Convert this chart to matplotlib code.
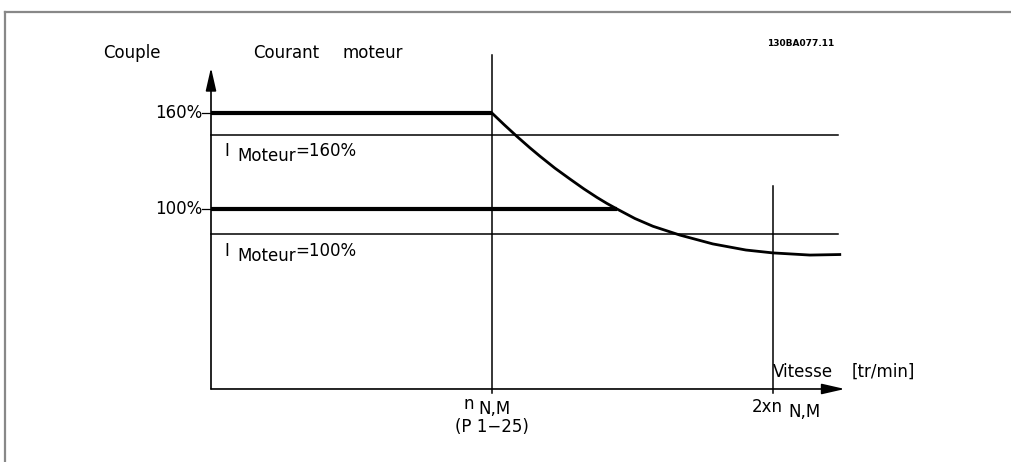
import matplotlib
matplotlib.use("Agg")
import matplotlib.pyplot as plt
from matplotlib.lines import Line2D

# vitesse en multiples de n N,M ; couple en unites du schema (100 = 100%)
vitesse_courbe = [1.0, 1.043, 1.089, 1.135, 1.171, 1.224, 1.278, 1.327, 1.374, 1.409,
                  1.445, 1.509, 1.573, 1.669, 1.786, 1.904, 2.0, 2.132, 2.238]
couple_courbe = [153.3, 146.9, 140.3, 134.0, 129.3, 122.7, 116.6, 111.2, 106.4, 103.1,
                 100.0, 94.7, 90.4, 85.5, 80.6, 77.2, 75.6, 74.4, 74.7]

couple_160 = 153.3      # niveau marque 160%
couple_100 = 100.0      # niveau marque 100%
courant_160 = 141.1     # I Moteur=160%
courant_100 = 86.1      # I Moteur=100%
fin_160 = 1.0
fin_100 = 1.445
fin_courant = 2.23

vitesses_rep = [1.0, 2.0]
haut_rep = [185.6, 112.8]

W, H = 1012, 462
fig = plt.figure(figsize=(W / 100, H / 100), dpi=100)
ax = fig.add_axes([0, 0, 1, 1])
ax.set_xlim(-0.751, 2.851)
ax.set_ylim(-40.56, 216.1)
ax.axis("off")

def px(x, y):
    return x / W, 1 - y / H

# cadre gris (haut et gauche)
fig.add_artist(Line2D([5 / W, 5 / W], [0, 1 - 12 / H], color="#888888", lw=1.6))
fig.add_artist(Line2D([5 / W, 1], [1 - 12 / H, 1 - 12 / H], color="#888888", lw=1.6))

# axes avec fleches
fleche = dict(arrowstyle="-|>,head_length=0.7,head_width=0.16",
              mutation_scale=20, lw=1.2, color="k", shrinkA=0, shrinkB=0)
ax.annotate("", xy=(0, 178.5), xytext=(0, 0), arrowprops=fleche)
ax.annotate("", xy=(2.256, 0), xytext=(0, 0), arrowprops=fleche)

# petits traits de graduation
for lv in [couple_160, couple_100]:
    ax.plot([-0.032, 0], [lv, lv], color="k", lw=0.9)

# verticales n N,M et 2xn N,M
for v, h in zip(vitesses_rep, haut_rep):
    ax.plot([v, v], [-2.2, h], color="k", lw=1.1)

# courant moteur (traits fins)
ax.plot([0, fin_courant], [courant_160, courant_160], color="k", lw=1.1)
ax.plot([0, fin_courant], [courant_100, courant_100], color="k", lw=1.1)

# couple (traits epais)
ax.plot([0, fin_160], [couple_160, couple_160], color="k", lw=3.0, solid_capstyle="butt")
ax.plot([0, fin_100], [couple_100, couple_100], color="k", lw=3.0, solid_capstyle="butt")
ax.plot(vitesse_courbe, couple_courbe, color="k", lw=2.0, solid_joinstyle="round")

fs = 12
fig.text(*px(103, 53), "Couple", fontsize=fs, va="center", ha="left")
fig.text(*px(253, 53), "Courant", fontsize=fs, va="center", ha="left")
fig.text(*px(343, 53), "moteur", fontsize=fs, va="center", ha="left")
fig.text(*px(767, 43), "130BA077.11", fontsize=6.5, fontweight="bold", va="center", ha="left")
fig.text(*px(202, 113), "160%", fontsize=fs, va="center", ha="right")
fig.text(*px(202, 209), "100%", fontsize=fs, va="center", ha="right")

for y0, txt in [(151, "=160%"), (251, "=100%")]:
    fig.text(*px(224, y0), "I", fontsize=fs, va="center", ha="left")
    t = fig.text(*px(237, y0 + 5), "Moteur", fontsize=fs, va="center", ha="left")
    ax.annotate(txt, xy=(1, 0.5), xycoords=t, xytext=(0, 3.6), textcoords="offset points",
                fontsize=fs, va="center", ha="left")

fig.text(*px(474, 404), "n", fontsize=fs, va="center", ha="right")
fig.text(*px(478, 409), "N,M", fontsize=fs, va="center", ha="left")
fig.text(*px(492, 427), "(P 1\u221225)", fontsize=fs, va="center", ha="center")

fig.text(*px(752, 407), "2xn", fontsize=fs, va="center", ha="left")
fig.text(*px(788, 412), "N,M", fontsize=fs, va="center", ha="left")

fig.text(*px(773, 372), "Vitesse", fontsize=fs, va="center", ha="left")
fig.text(*px(852, 372), "[tr/min]", fontsize=fs, va="center", ha="left")

fig.savefig("out.png", dpi=100)
